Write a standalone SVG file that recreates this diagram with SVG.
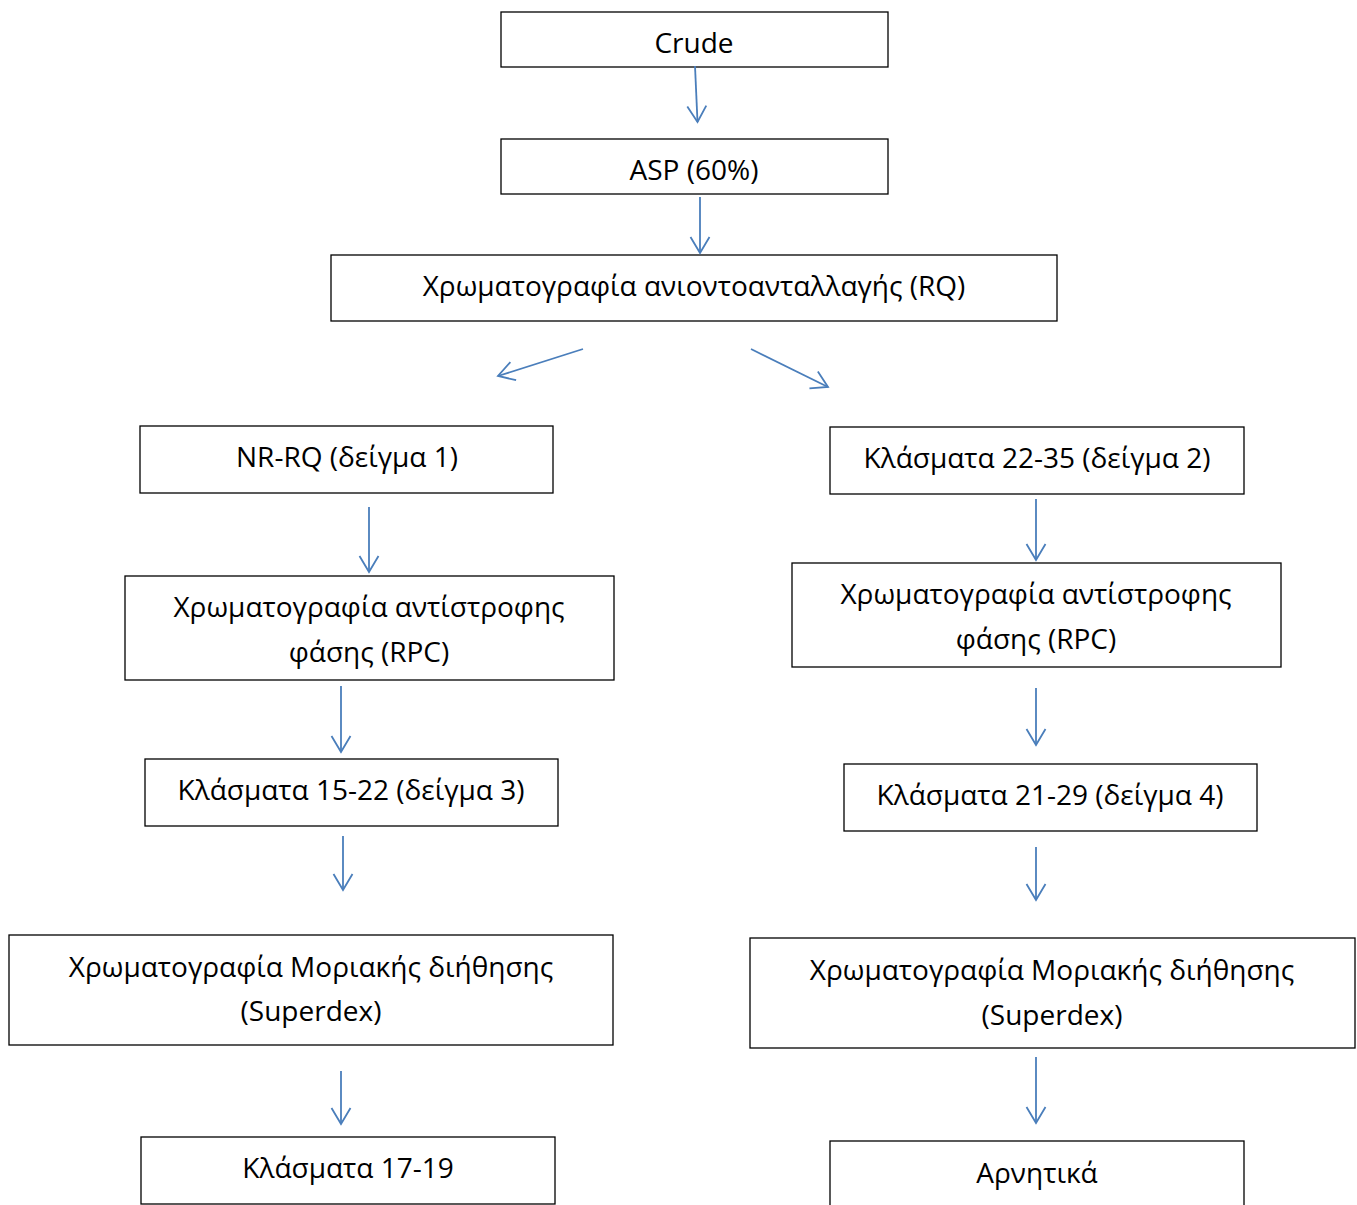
<svg xmlns="http://www.w3.org/2000/svg" width="1357" height="1205" viewBox="0 0 1357 1205">
<defs>
<style>
.box{fill:#fff;stroke:#000;stroke-width:1.3}
.t{font-family:"Open Sans","Noto Sans","DejaVu Sans",sans-serif;font-size:28px;fill:#000;text-anchor:middle}
.c{stroke:#4a7ebb;stroke-width:1.8;fill:none}
</style>
<marker id="ah" markerUnits="userSpaceOnUse" markerWidth="24" markerHeight="24" viewBox="-20 -12 24 24" refX="0" refY="0" orient="auto">
<path d="M-16,-9.5 L0,0 L-16,9.5" fill="none" stroke="#4a7ebb" stroke-width="1.8"/>
</marker>
</defs>
<rect width="1357" height="1205" fill="#fff"/>
<g id="n1"><rect class="box" x="501" y="12" width="387" height="55"/><text class="t" x="694" y="53">Crude</text></g>
<g id="n2"><rect class="box" x="501" y="139" width="387" height="55"/><text class="t" x="694" y="180">ASP (60%)</text></g>
<g id="n3"><rect class="box" x="331" y="255" width="726" height="66"/><text class="t" x="694" y="296">Χρωματογραφία ανιοντοανταλλαγής (RQ)</text></g>
<g id="n4"><rect class="box" x="140" y="426" width="413" height="67"/><text class="t" x="347" y="467">NR-RQ (δείγμα 1)</text></g>
<g id="n5"><rect class="box" x="125" y="576" width="489" height="104"/><text class="t" x="369" y="617">Χρωματογραφία αντίστροφης</text><text class="t" x="369" y="662">φάσης (RPC)</text></g>
<g id="n6"><rect class="box" x="145" y="759" width="413" height="67"/><text class="t" x="351" y="800">Κλάσματα 15-22 (δείγμα 3)</text></g>
<g id="n7"><rect class="box" x="9" y="935" width="604" height="110"/><text class="t" x="311" y="977">Χρωματογραφία Μοριακής διήθησης</text><text class="t" x="311" y="1021">(Superdex)</text></g>
<g id="n8"><rect class="box" x="141" y="1137" width="414" height="67"/><text class="t" x="348" y="1178">Κλάσματα 17-19</text></g>
<g id="n9"><rect class="box" x="830" y="427" width="414" height="67"/><text class="t" x="1037" y="468">Κλάσματα 22-35 (δείγμα 2)</text></g>
<g id="n10"><rect class="box" x="792" y="563" width="489" height="104"/><text class="t" x="1036" y="604">Χρωματογραφία αντίστροφης</text><text class="t" x="1036" y="649">φάσης (RPC)</text></g>
<g id="n11"><rect class="box" x="844" y="764" width="413" height="67"/><text class="t" x="1050" y="805">Κλάσματα 21-29 (δείγμα 4)</text></g>
<g id="n12"><rect class="box" x="750" y="938" width="605" height="110"/><text class="t" x="1052" y="980">Χρωματογραφία Μοριακής διήθησης</text><text class="t" x="1052" y="1025">(Superdex)</text></g>
<g id="n13"><rect class="box" x="830" y="1141" width="414" height="70"/><text class="t" x="1037" y="1183">Αρνητικά</text></g>
<g id="connectors">
<line class="c" x1="695" y1="66" x2="697.5" y2="122" marker-end="url(#ah)"/>
<line class="c" x1="700" y1="197" x2="700" y2="253" marker-end="url(#ah)"/>
<line class="c" x1="583" y1="349" x2="498" y2="376" marker-end="url(#ah)"/>
<line class="c" x1="751" y1="349" x2="828" y2="387" marker-end="url(#ah)"/>
<line class="c" x1="369" y1="507" x2="369" y2="572" marker-end="url(#ah)"/>
<line class="c" x1="341" y1="686" x2="341" y2="752" marker-end="url(#ah)"/>
<line class="c" x1="343" y1="836" x2="343" y2="890" marker-end="url(#ah)"/>
<line class="c" x1="341" y1="1071" x2="341" y2="1124" marker-end="url(#ah)"/>
<line class="c" x1="1036" y1="499" x2="1036" y2="560" marker-end="url(#ah)"/>
<line class="c" x1="1036" y1="688" x2="1036" y2="745" marker-end="url(#ah)"/>
<line class="c" x1="1036" y1="847" x2="1036" y2="900" marker-end="url(#ah)"/>
<line class="c" x1="1036" y1="1057" x2="1036" y2="1123" marker-end="url(#ah)"/>
</g>
</svg>
